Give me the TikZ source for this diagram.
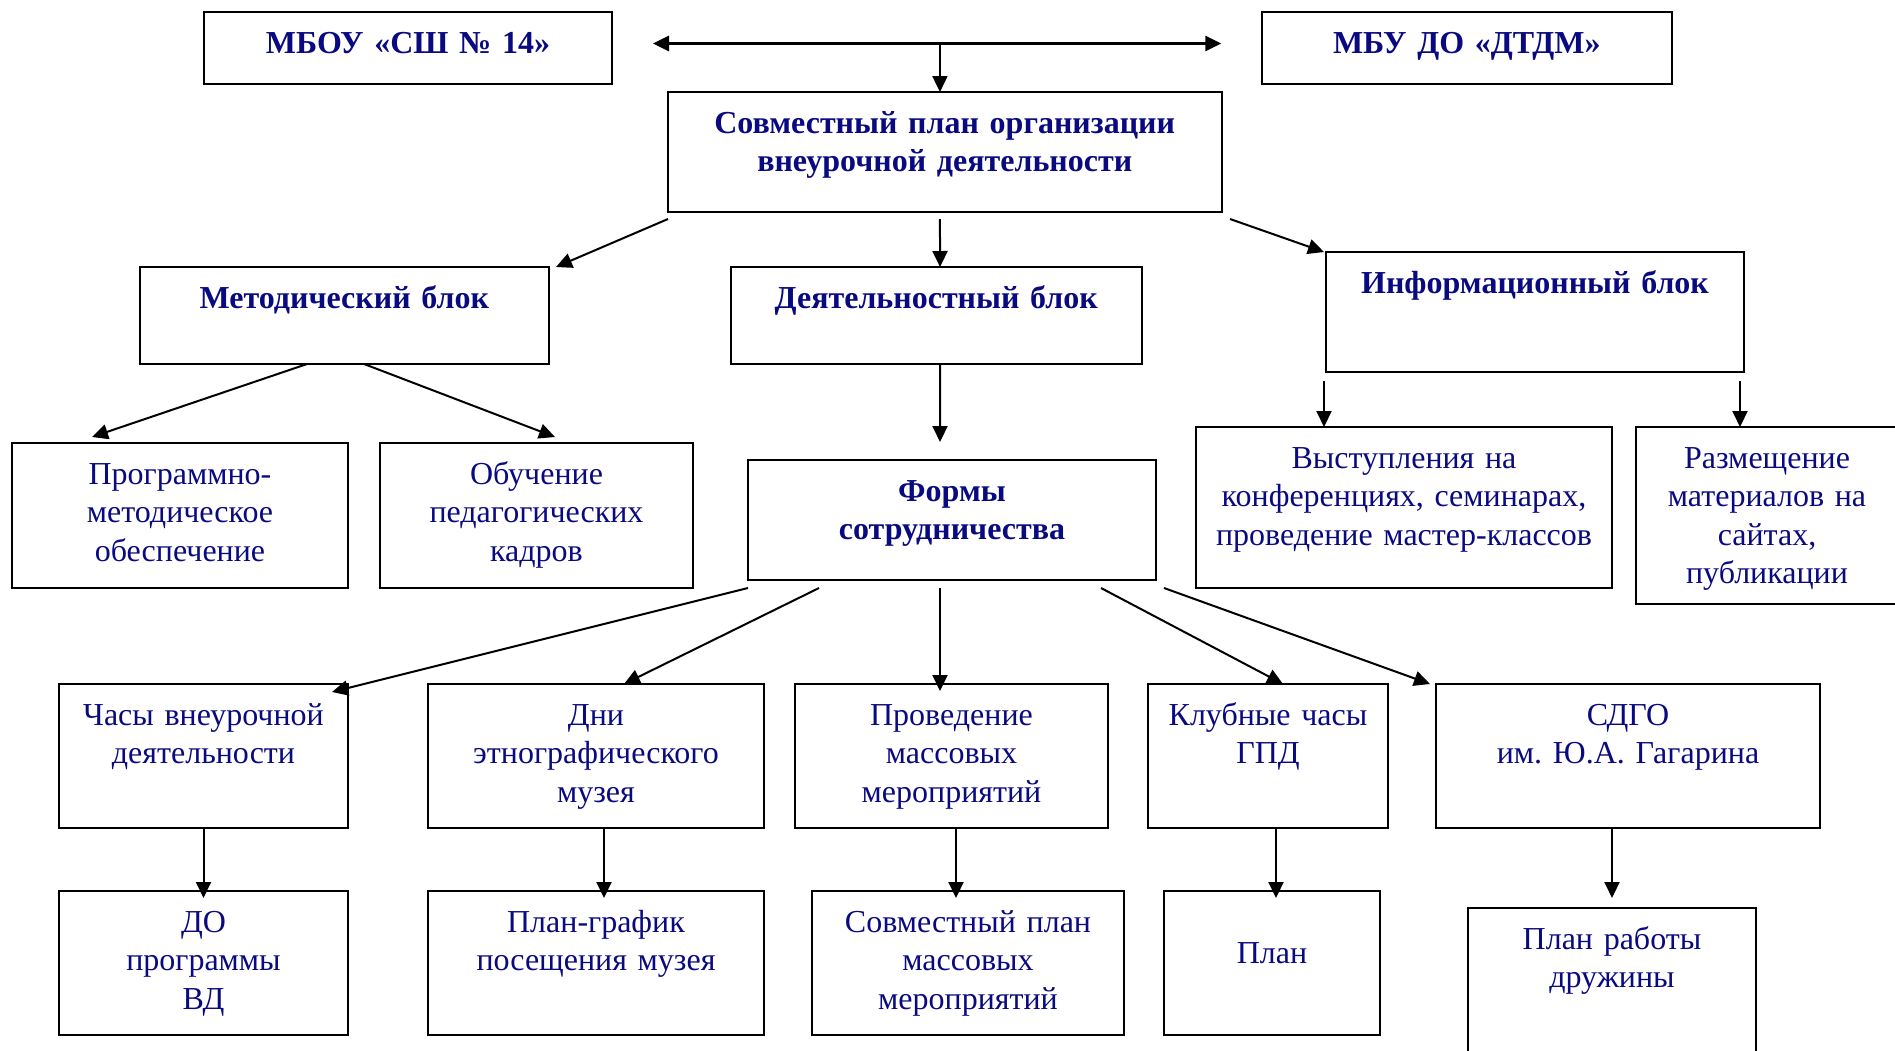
\documentclass[tikz,border=0pt]{standalone}
\usepackage{fontspec}
\setmainfont{Liberation Serif}
\frenchspacing
\usetikzlibrary{arrows.meta}
\definecolor{ink}{RGB}{10,10,128}
\tikzstyle{block} = [rectangle, draw=black, line width=1pt, outer sep=0pt, anchor=north, text=ink, align=center, inner xsep=4pt, inner ysep=0pt, text height=20.5pt, font=\fontsize{16}{19.3}\selectfont]
\tikzstyle{head} = [block, font=\fontsize{16}{19.3}\selectfont\bfseries]
\tikzstyle{arrow} = [->, >={Triangle[length=8pt,width=7.5pt]}, line width=1pt]
\newcommand{\vgap}{4pt}
\newcommand{\tipin}{3.5pt}

\begin{document}
\begin{tikzpicture}[x=0.5pt, y=-0.5pt]

  %\draw[help lines] (0,0) grid (1895,1050);
  \useasboundingbox (0,0) rectangle (1895,1050);

  % partners and the joint plan
  \node (mbou) [head, text width=196pt, text depth=15.5pt] at (408,12) {МБОУ «СШ № 14»};
  \node (mbu)  [head, text width=197pt, text depth=15.5pt] at (1466.75,12) {МБУ ДО «ДТДМ»};
  \node (plan) [head, text width=268.75pt, text depth=39.5pt] at (944.75,92) {Совместный план организации\\внеурочной деятельности};

  % the three blocks
  \node (metod)  [head, text width=196.25pt, text depth=28pt] at (344.25,267) {Методический блок};
  \node (deyat)  [head, text width=197.25pt, text depth=28pt] at (936.25,267) {Деятельностный блок};
  \node (inform) [head, text width=201pt, text depth=39.5pt] at (1535,252) {Информационный блок};

  \node (progr)  [block, text width=160pt, text depth=52pt] at (180,443) {Программно-\\методическое\\обеспечение};
  \node (obuch)  [block, text width=148.5pt, text depth=52pt] at (536.5,443) {Обучение\\педагогических\\кадров};
  \node (formy)  [head, text width=196pt, text depth=39.5pt] at (952,460) {Формы\\сотрудничества};
  \node (vystup) [block, text width=200pt, text depth=60pt] at (1404,427) {Выступления на\\конференциях, семинарах,\\проведение мастер-классов};
  \node (razm)   [block, text width=123pt, text depth=68pt] at (1767,427) {Размещение\\материалов на\\сайтах,\\публикации};

  % forms of cooperation
  \node (chasy)  [block, text width=136.5pt, text depth=51.5pt] at (203.5,684) {Часы внеурочной\\деятельности};
  \node (dni)    [block, text width=160pt, text depth=51.5pt] at (596,684) {Дни\\этнографического\\музея};
  \node (provod) [block, text width=148.5pt, text depth=51.5pt] at (951.5,684) {Проведение\\массовых\\мероприятий};
  \node (klub)   [block, text width=112pt, text depth=51.5pt] at (1268,684) {Клубные часы\\ГПД};
  \node (sdgo)   [block, text width=184pt, text depth=51.5pt] at (1628,684) {СДГО\\им. Ю.А. Гагарина};

  % documents
  \node (dop)    [block, text width=136.5pt, text depth=51.5pt] at (203.5,891) {ДО\\программы\\ВД};
  \node (grafik) [block, text width=160pt, text depth=51.5pt] at (596,891) {План-график\\посещения музея};
  \node (sovm)   [block, text width=148pt, text depth=51.5pt] at (968,891) {Совместный план\\массовых\\мероприятий};
  \node (planb)  [block, text width=100pt, text height=36pt, text depth=36pt] at (1272,891) {План};
  \node (druzh)  [block, text width=136pt, text depth=51.5pt] at (1612,908) {План работы\\дружины};

  % partners - plan
  \draw [arrow, <->, line width=1.5pt] ([xshift=20.5pt,yshift=2.25pt]mbou.east) -- ([xshift=-20.25pt,yshift=2.25pt]mbu.west);
  \draw [arrow] ([xshift=-2.4pt,yshift=24.25pt]plan.north) -- ([xshift=-2.4pt]plan.north);

  % plan - blocks
  \draw [arrow] ([yshift=-\tipin]plan.south west) -- ([xshift=3.75pt]metod.north east);
  \draw [arrow] ([xshift=-2.4pt,yshift=-\tipin]plan.south) -- ([xshift=1.9pt]deyat.north);
  \draw [arrow] ([xshift=4.25pt,yshift=-\tipin]plan.south east) -- ([xshift=-1pt]inform.north west);

  % blocks - second row
  \draw [arrow] ([xshift=-18.6pt]metod.south) -- ([xshift=-44pt,yshift=3pt]progr.north);
  \draw [arrow] ([xshift=9.9pt]metod.south) -- ([xshift=9.25pt,yshift=3pt]obuch.north);
  \draw [arrow] ([xshift=1.9pt]deyat.south) -- ([xshift=-6pt,yshift=9pt]formy.north);
  \draw [arrow] ([xshift=-1pt,yshift=-4.5pt]inform.south west) -- ([xshift=-1pt]inform.south west |- vystup.north);
  \draw [arrow] ([xshift=-2pt,yshift=-4.5pt]inform.south east) -- ([xshift=-2pt]inform.south east |- razm.north);

  % forms - third row
  \draw [arrow] ([yshift=-\vgap]formy.south west) -- ([xshift=-8pt,yshift=-4pt]chasy.north east);
  \draw [arrow] ([xshift=35.5pt,yshift=-\vgap]formy.south west) -- ([xshift=14pt]dni.north);
  \draw [arrow] ([xshift=-6pt,yshift=-\vgap]formy.south) -- ([xshift=-5.75pt,yshift=-\tipin]provod.north);
  \draw [arrow] ([xshift=-27.5pt,yshift=-\vgap]formy.south east) -- ([xshift=7.5pt]klub.north);
  \draw [arrow] ([xshift=4pt,yshift=-\vgap]formy.south east) -- ([xshift=-3pt]sdgo.north west);

  % third row - documents
  \draw [arrow] (chasy.south) -- ([yshift=-\tipin]dop.north);
  \draw [arrow] ([xshift=4pt]dni.south) -- ([xshift=4pt,yshift=-\tipin]grafik.north);
  \draw [arrow] ([xshift=2.25pt]provod.south) -- ([xshift=-6pt,yshift=-\tipin]sovm.north);
  \draw [arrow] ([xshift=4pt]klub.south) -- ([xshift=2pt,yshift=-\tipin]planb.north);
  \draw [arrow] ([xshift=-8pt]sdgo.south) -- ([yshift=5pt]druzh.north);

\end{tikzpicture}
\end{document}
